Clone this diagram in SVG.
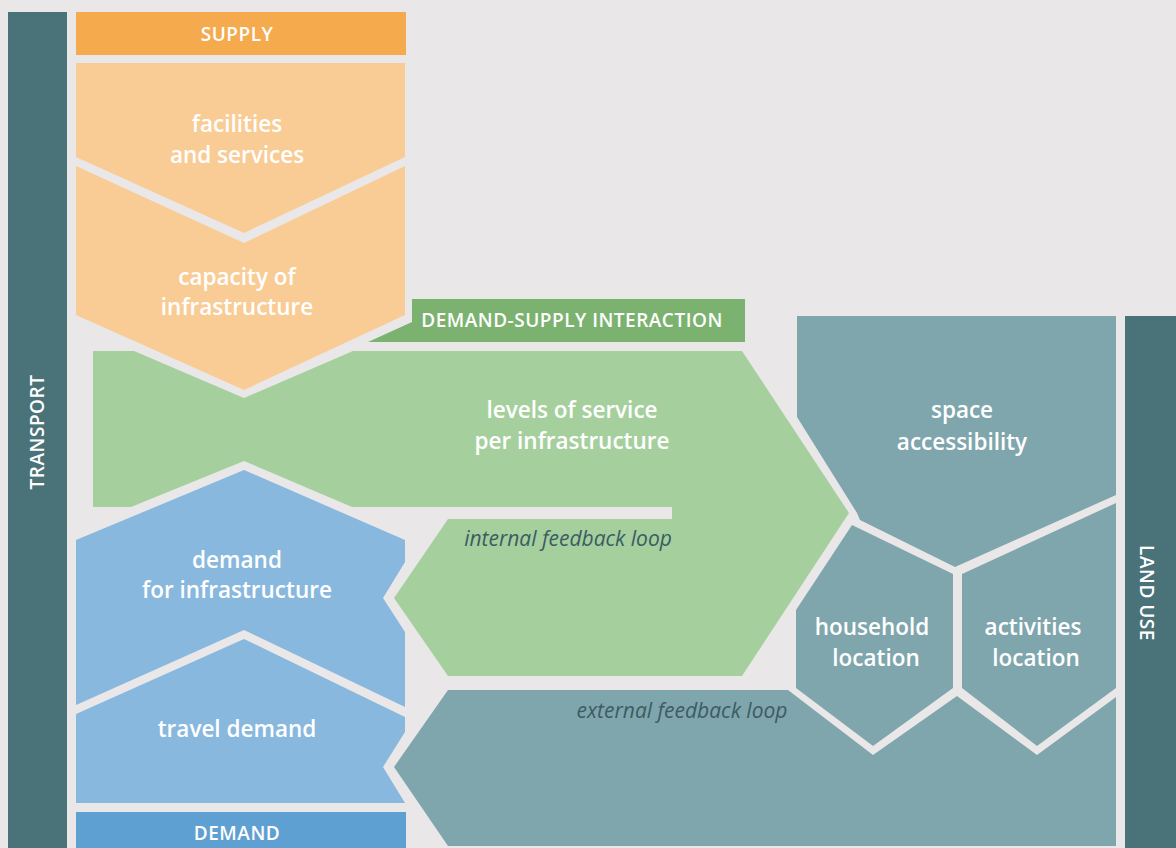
<svg xmlns="http://www.w3.org/2000/svg" width="1176" height="848" viewBox="0 0 1176 848">
<style>
.lbl{font-family:"Open Sans","Noto Sans","Liberation Sans",sans-serif;font-size:22.5px;font-weight:600;fill:#ffffff;text-anchor:middle}
.hdr{font-family:"Open Sans","Noto Sans","Liberation Sans",sans-serif;font-size:19px;font-weight:600;letter-spacing:0.5px;fill:#ffffff;text-anchor:middle}
.loop{font-family:"Open Sans","Noto Sans","Liberation Sans",sans-serif;font-size:21px;font-style:italic;fill:#3C5C63;text-anchor:middle}
.bar{fill:#4A7279}
.supply{fill:#F9CC96}
.demand{fill:#88B8DE}
.green{fill:#A5D09D}
.teal{fill:#80A6AD}
</style>
<rect width="1176" height="848" fill="#E9E7E8"/>

<g id="transport">
<rect class="bar" x="8" y="12" width="59" height="836"/>
<text class="hdr" transform="translate(44,432) rotate(-90)">TRANSPORT</text>
</g>

<g id="land-use">
<rect class="bar" x="1125" y="316" width="51" height="532"/>
<text class="hdr" transform="translate(1140,593) rotate(90)">LAND USE</text>
</g>

<g id="supply-header">
<rect x="76" y="12" width="330" height="43" fill="#F5AA4E"/>
<text class="hdr" x="237" y="41">SUPPLY</text>
</g>

<g id="facilities">
<polygon class="supply" points="76,63 405,63 405,157 244,233 76,157"/>
<text class="lbl" x="237" y="132">facilities</text>
<text class="lbl" x="237" y="163">and services</text>
</g>

<g id="capacity">
<polygon class="supply" points="76,166 244,243 405,166 405,315 244,390 76,315"/>
<text class="lbl" x="237" y="285">capacity of</text>
<text class="lbl" x="237" y="315">infrastructure</text>
</g>

<g id="interaction-header">
<polygon points="412,299 745,299 745,342 368,342 412,322" fill="#7BB26F"/>
<text class="hdr" x="572" y="327">DEMAND-SUPPLY INTERACTION</text>
</g>

<g id="levels-of-service">
<polygon class="green" points="93,351 134,351 244,398 353,351 742,351 849,513 742,676 448,676 394,598 448,519 672,519 672,507 352,507 244,461 131,507 93,507"/>
<text class="lbl" x="572" y="418">levels of service</text>
<text class="lbl" x="572" y="449">per infrastructure</text>
<text class="loop" x="568" y="546">internal feedback loop</text>
</g>

<g id="demand-infrastructure">
<polygon class="demand" points="244,470 405,540 405,562 383,598 405,632 405,707 244,630 76,705 76,540"/>
<text class="lbl" x="237" y="568">demand</text>
<text class="lbl" x="237" y="598">for infrastructure</text>
</g>

<g id="travel-demand">
<polygon class="demand" points="76,714 244,639 405,717 405,732 383,767 405,803 76,803"/>
<text class="lbl" x="237" y="737">travel demand</text>
</g>

<g id="demand-header">
<rect x="76" y="812" width="330" height="36" fill="#5FA0D2"/>
<text class="hdr" x="237" y="840">DEMAND</text>
</g>

<g id="space-accessibility">
<polygon class="teal" points="797,316 1116,316 1116,495 955,567 860,520 857,513 797,417"/>
<text class="lbl" x="962" y="418">space</text>
<text class="lbl" x="962" y="450">accessibility</text>
</g>

<g id="household-location">
<polygon class="teal" points="852,525 953,574 953,688 873,746 796,688 796,610"/>
<text class="lbl" x="872" y="635">household</text>
<text class="lbl" x="876" y="666">location</text>
</g>

<g id="activities-location">
<polygon class="teal" points="962,574 1116,503 1116,688 1037,746 962,688"/>
<text class="lbl" x="1033" y="635">activities</text>
<text class="lbl" x="1036" y="666">location</text>
</g>

<g id="external-feedback">
<polygon class="teal" points="448,690 788,690 873,755 957,696 1037,755 1116,697 1116,846 448,846 394,767"/>
<text class="loop" x="682" y="718">external feedback loop</text>
</g>

<g id="connectors"></g>
</svg>
